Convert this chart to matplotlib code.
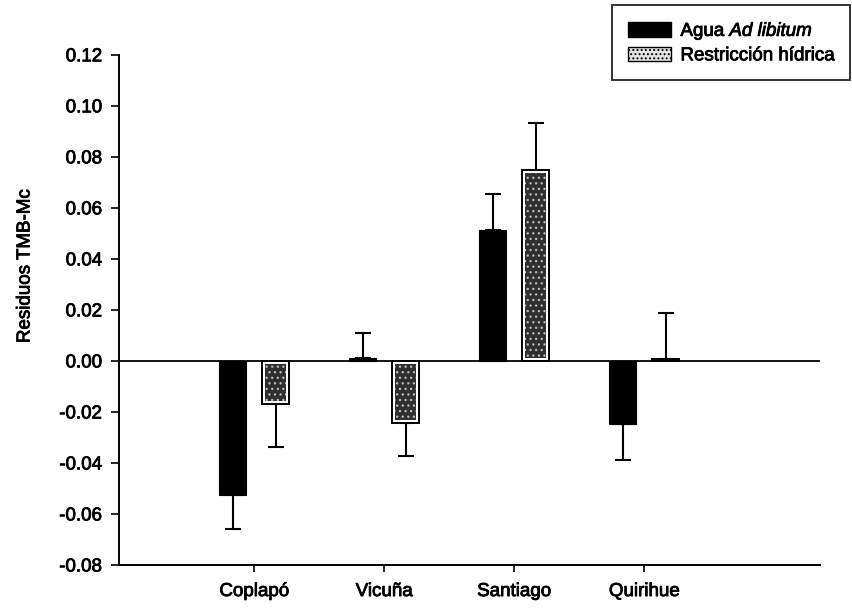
import matplotlib
matplotlib.use('Agg')
import matplotlib.pyplot as plt
import matplotlib.patheffects as pe
from matplotlib.patches import Patch
import numpy as np

plt.rcParams['font.family'] = ['Liberation Sans', 'DejaVu Sans']
plt.rcParams['mathtext.fontset'] = 'custom'
plt.rcParams['mathtext.it'] = 'Liberation Sans:italic'
plt.rcParams['mathtext.rm'] = 'Liberation Sans'
plt.rcParams['hatch.linewidth'] = 0.9

# Localidades y residuos medios (+ error estandar) por tratamiento
localidades = ['Coplapó', 'Vicuña', 'Santiago', 'Quirihue']
agua_libitum = [-0.0525, 0.0012, 0.0514, -0.0247]
agua_libitum_err = [0.0133, 0.0098, 0.0140, 0.0142]
restriccion = [-0.0169, -0.0243, 0.0749, 0.0008]
restriccion_err = [0.0168, 0.0130, 0.0184, 0.0180]

y_ticks = [-0.08, -0.06, -0.04, -0.02, 0.00, 0.02, 0.04, 0.06, 0.08, 0.10, 0.12]

# trazo extra para que el texto se vea algo mas grueso
grueso = [pe.withStroke(linewidth=0.6, foreground='black')]

fig = plt.figure(figsize=(8.53, 6.11), dpi=100)
ax = fig.add_axes([0.1395, 0.0753, 0.8215, 0.835])

x = np.arange(len(localidades))
ancho = 0.21
desp = 0.165

# Barras negras (agua ad libitum)
ax.bar(x - desp, agua_libitum, ancho, color='black', edgecolor='black',
    linewidth=0.8, zorder=3)

# Barras punteadas (restriccion hidrica): contorno negro + relleno interior
ax.bar(x + desp, restriccion, ancho, color='white', edgecolor='black',
    linewidth=1.4, zorder=3)
restr = np.array(restriccion)
gap = 0.0012 * np.sign(restr)
inner = np.where(np.abs(restr) > 2 * 0.0012, restr - 2 * gap, 0)
ax.bar(x + desp, inner, ancho - 0.05, bottom=gap, color='#2e2e2e',
    edgecolor='#bcbcbc', linewidth=0, hatch='...', zorder=4)

# Barras de error solo hacia afuera de cero
def error_afuera(pos, vals, errs):
    vals = np.array(vals)
    errs = np.array(errs)
    lower = np.where(vals < 0, errs, 0)
    upper = np.where(vals >= 0, errs, 0)
    ax.errorbar(pos, vals, yerr=[lower, upper], fmt='none', ecolor='black',
        elinewidth=1.5, capsize=6, capthick=1.5, zorder=2)

error_afuera(x - desp, agua_libitum, agua_libitum_err)
error_afuera(x + desp, restriccion, restriccion_err)

ax.axhline(0, color='black', linewidth=1.3, zorder=5)

ax.set_xlim(-1.04, 4.35)
ax.set_ylim(-0.08, 0.12)
ax.set_yticks(y_ticks)
ax.set_yticklabels(['%.2f' % v for v in y_ticks])
ax.set_xticks(x)
ax.set_xticklabels(localidades)
ax.tick_params(axis='both', labelsize=13.5, direction='out', length=6,
    width=1.2, colors='black')
ax.tick_params(axis='y', pad=6)
ax.tick_params(axis='x', pad=8, length=5)
ax.set_ylabel('Residuos TMB-Mc', fontsize=13.5, path_effects=grueso)
ax.yaxis.set_label_coords(-0.122, 0.585)

for lbl in ax.get_xticklabels() + ax.get_yticklabels():
    lbl.set_path_effects(grueso)

for side in ['top', 'right']:
    ax.spines[side].set_visible(False)
for side in ['left', 'bottom']:
    ax.spines[side].set_linewidth(1.4)

handles = [
    Patch(facecolor='black', edgecolor='black', label='Agua $\\it{Ad\\ libitum}$'),
    Patch(facecolor='#e4e4e4', edgecolor='black', hatch='....',
        label='Restricción hídrica'),
]
leg = fig.legend(handles=handles, loc='upper left',
    bbox_to_anchor=(612 / 853, 1 - 5 / 611), fontsize=13.5, frameon=True,
    fancybox=False, edgecolor='black', borderpad=0.85, handlelength=2.3,
    handleheight=0.8, handletextpad=0.5, labelspacing=0.25,
    borderaxespad=0)
leg.get_frame().set_linewidth(1.4)
for t in leg.get_texts():
    t.set_path_effects(grueso)

fig.savefig('out.png', dpi=100)
